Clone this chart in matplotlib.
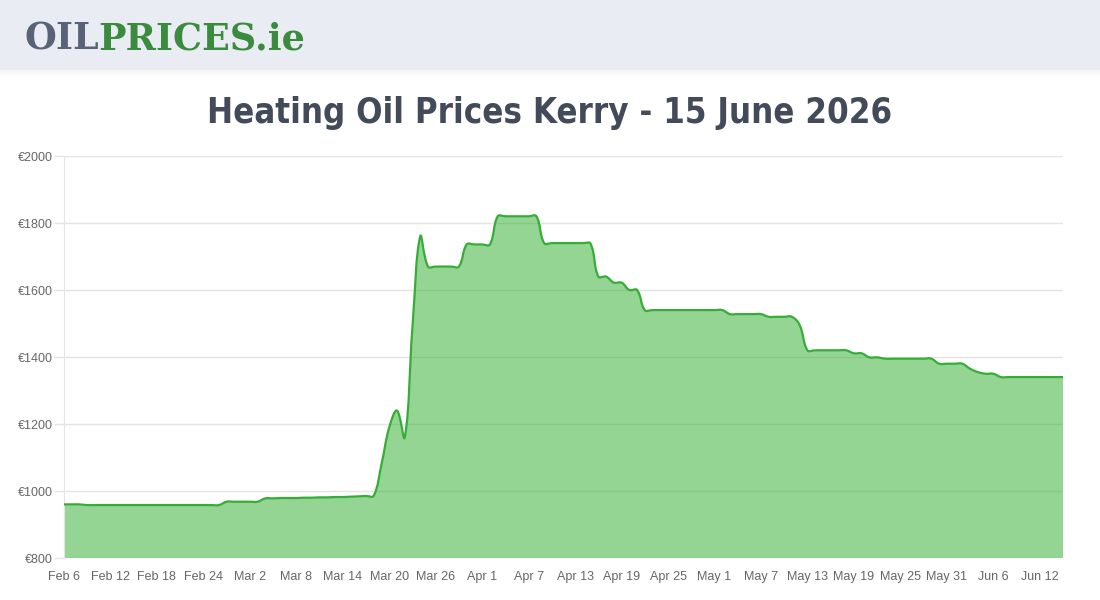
"""
Heating oil price chart for Kerry, drawn in the style of the oilprices.ie page
(Chart.js style smoothed area line)
"""
import numpy as np
import pandas as pd
import matplotlib
matplotlib.use('Agg')
import matplotlib.pyplot as plt
import matplotlib.dates as mdates
from matplotlib.path import Path
from matplotlib.patches import PathPatch, Rectangle
from matplotlib.text import Annotation

# Data (one value per day, starting Feb 6 2026)
START_DATE = '2026-02-06'
PRICES = [
    960, 960, 960, 958, 958, 958, 958, 958, 958, 958,
    958, 958, 958, 958, 958, 958, 958, 958, 958, 958,
    958, 968, 968, 968, 968, 968, 978, 978, 979, 979,
    979, 980, 980, 981, 981, 982, 982, 983, 984, 985,
    986, 1080, 1190, 1240, 1160, 1490, 1760, 1670, 1670, 1670,
    1670, 1670, 1736, 1736, 1736, 1736, 1820, 1820, 1820, 1820,
    1820, 1820, 1740, 1740, 1740, 1740, 1740, 1740, 1738, 1640,
    1640, 1622, 1622, 1600, 1600, 1540, 1540, 1540, 1540, 1540,
    1540, 1540, 1540, 1540, 1540, 1540, 1528, 1528, 1528, 1528,
    1528, 1520, 1520, 1520, 1520, 1495, 1420, 1420, 1420, 1420,
    1420, 1420, 1411, 1411, 1399, 1399, 1395, 1395, 1395, 1395,
    1395, 1395, 1395, 1380, 1380, 1380, 1380, 1365, 1355, 1350,
    1350, 1340, 1340, 1340, 1340, 1340, 1340, 1340, 1340, 1340,
]
DATES = pd.date_range(START_DATE, periods=len(PRICES), freq='D')
Y_TICKS = [800, 1000, 1200, 1400, 1600, 1800, 2000]
Y_LABELS = ['€800', '€1000', '€1200', '€1400', '€1600', '€1800', '€2000']
X_TICK_STEP = 6

TITLE = 'Heating Oil Prices Kerry - 15 June 2026'
LOGO_LEFT = 'OIL'
LOGO_RIGHT = 'PRICES.ie'

# Colours
HEADER_BG = '#e9ecf3'
LOGO_GREY = '#586378'
LOGO_GREEN = '#3a8b3e'
TITLE_COLOR = '#434a59'
LINE_COLOR = '#36ad36'
FILL_COLOR = '#2aad2a'
GRID_COLOR = '#e4e4e4'
TICK_COLOR = '#666666'

W, H = 1100, 600
TITLE_WIDTH = 683  # px, as on the page


def spline_controls(pts, tension=0.4):
    """Chart.js splineCurve control points, computed in pixel space"""
    n = len(pts)
    c_prev = np.zeros_like(pts)
    c_next = np.zeros_like(pts)
    for i in range(n):
        prev = pts[max(i - 1, 0)]
        cur = pts[i]
        nxt = pts[min(i + 1, n - 1)]
        d01 = np.hypot(*(cur - prev))
        d12 = np.hypot(*(nxt - cur))
        tot = d01 + d12
        s01 = d01 / tot if tot else 0.0
        s12 = d12 / tot if tot else 0.0
        c_prev[i] = cur - tension * s01 * (nxt - prev)
        c_next[i] = cur + tension * s12 * (nxt - prev)
    return c_prev, c_next


fig = plt.figure(figsize=(W / 100, H / 100), dpi=100)
fig.patch.set_facecolor('white')

# Header band with a soft shadow underneath
fig.patches.append(Rectangle((0, 1 - 70 / H), 1, 70 / H, transform=fig.transFigure,
                             facecolor=HEADER_BG, edgecolor='none', zorder=0))
for k in range(8):
    fig.patches.append(Rectangle((0, 1 - (71 + k) / H), 1, 1 / H, transform=fig.transFigure,
                                 facecolor='#000000', alpha=0.035 * (1 - k / 8),
                                 edgecolor='none', zorder=0))

# Logo: two coloured parts, the second anchored to the end of the first
logo_kw = dict(family='DejaVu Serif', fontweight='bold', fontsize=26.3)
t1 = fig.text(24 / W, 1 - 50 / H, LOGO_LEFT, color=LOGO_GREY, ha='left', va='baseline', **logo_kw)
fig.add_artist(Annotation(LOGO_RIGHT, xy=(1, 0), xycoords=t1, xytext=(0, 0),
                          textcoords='offset points', ha='left', va='bottom',
                          color=LOGO_GREEN, **logo_kw))

# Title, sized so that it spans the same width as on the page
title = fig.text(0.5, 1 - 113 / H, TITLE, ha='center', va='center', fontsize=30,
                 color=TITLE_COLOR, family='DejaVu Sans', fontstretch='condensed',
                 fontweight='bold')
renderer = fig.canvas.get_renderer()
tw = title.get_window_extent(renderer).width
title.set_fontsize(30 * TITLE_WIDTH / tw)

# Plot area
left, right, top, bottom = 64, 1063, 156, 558
ax = fig.add_axes([left / W, 1 - bottom / H, (right - left) / W, (bottom - top) / H])

x = mdates.date2num(DATES)
y = np.array(PRICES, dtype=float)
ax.set_xlim(x[0], x[-1])
ax.set_ylim(800, 2000)

# Smooth curve through the daily points
pix = ax.transData.transform(np.column_stack([x, y]))
c_prev, c_next = spline_controls(pix)
c_prev[:, 1] = np.clip(c_prev[:, 1], ax.bbox.y0, ax.bbox.y1)
c_next[:, 1] = np.clip(c_next[:, 1], ax.bbox.y0, ax.bbox.y1)
inv = ax.transData.inverted()
pts_d = inv.transform(pix)
cp_d = inv.transform(c_prev)
cn_d = inv.transform(c_next)

verts = [pts_d[0]]
codes = [Path.MOVETO]
for i in range(len(pts_d) - 1):
    verts += [cn_d[i], cp_d[i + 1], pts_d[i + 1]]
    codes += [Path.CURVE4] * 3

fill_verts = verts + [(x[-1], 800), (x[0], 800), pts_d[0]]
fill_codes = codes + [Path.LINETO, Path.LINETO, Path.CLOSEPOLY]
ax.add_patch(PathPatch(Path(fill_verts, fill_codes), facecolor=FILL_COLOR, alpha=0.5,
                       edgecolor='none', zorder=2))
ax.add_patch(PathPatch(Path(verts, codes), facecolor='none', edgecolor=LINE_COLOR,
                       linewidth=1.6, zorder=3, capstyle='round', joinstyle='round'))

# Axes styling
ax.set_yticks(Y_TICKS)
ax.set_yticklabels(Y_LABELS)
ax.set_xticks(x[::X_TICK_STEP])
ax.set_xticklabels([d.strftime('%b ') + str(d.day) for d in DATES[::X_TICK_STEP]])
ax.grid(axis='y', color=GRID_COLOR, linewidth=1)
ax.set_axisbelow(True)
for side in ['top', 'right', 'bottom']:
    ax.spines[side].set_visible(False)
ax.spines['left'].set_color(GRID_COLOR)
ax.tick_params(axis='y', length=7, width=1, color=GRID_COLOR, pad=1,
               labelsize=9, labelcolor=TICK_COLOR)
ax.tick_params(axis='x', length=0, pad=16, labelsize=9, labelcolor=TICK_COLOR)
for lbl in ax.get_xticklabels():
    lbl.set_family('Liberation Sans')
    lbl.set_verticalalignment('baseline')
for lbl in ax.get_yticklabels():
    lbl.set_family('Liberation Sans')

fig.savefig('out.png', dpi=100)
